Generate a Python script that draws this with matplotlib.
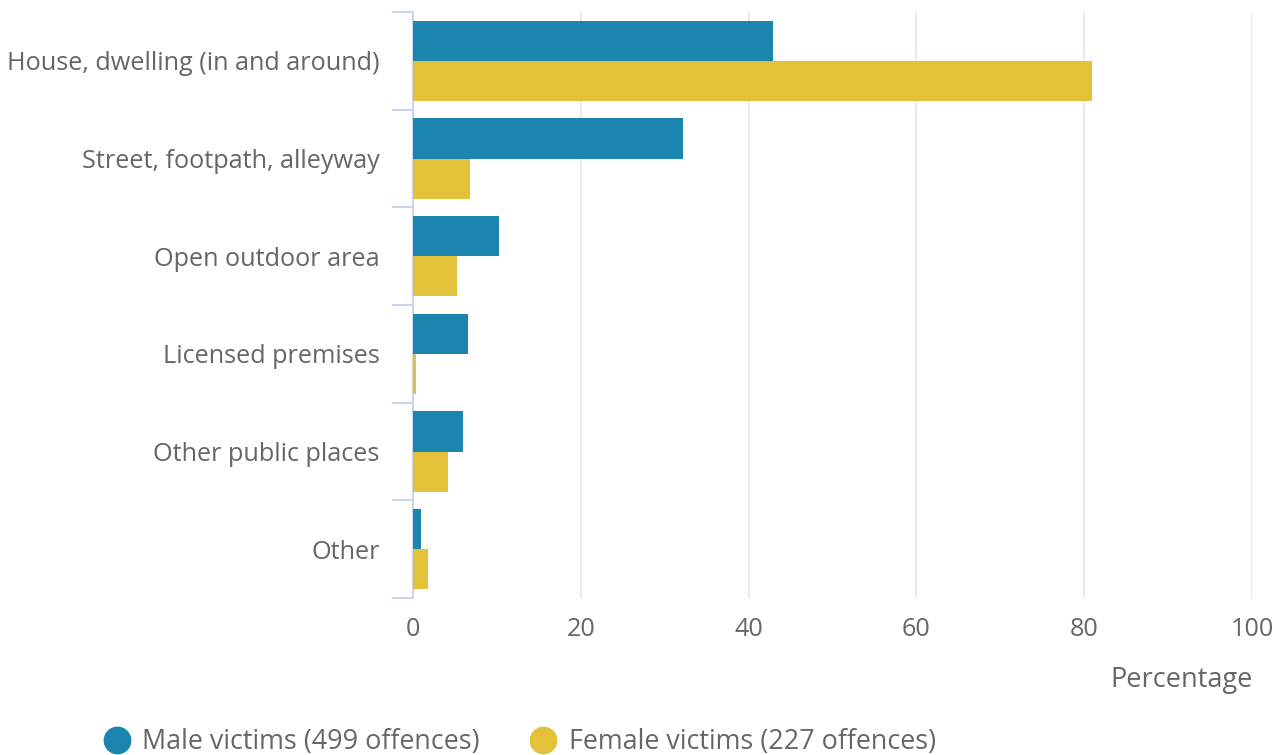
import numpy as np
import matplotlib
matplotlib.use("Agg")
import matplotlib.pyplot as plt
from matplotlib.lines import Line2D

plt.rcParams['font.family'] = ['Open Sans', 'DejaVu Sans']

# 数据
categories = ['House, dwelling (in and around)', 'Street, footpath, alleyway',
              'Open outdoor area', 'Licensed premises', 'Other public places', 'Other']
male = [42.9, 32.2, 10.3, 6.5, 6.0, 1.0]
female = [80.9, 6.8, 5.2, 0.4, 4.2, 1.8]
male_label = 'Male victims (499 offences)'
female_label = 'Female victims (227 offences)'

male_color = '#1b85ad'
female_color = '#e3c23a'
text_color = '#666666'
axis_color = '#ccd6eb'

fig = plt.figure(figsize=(12.82, 7.55), dpi=100)
ax = fig.add_axes([413 / 1282, 1 - 598 / 755, (1252 - 413) / 1282, (598 - 12) / 755])

y = np.arange(len(categories))
h = 0.41
ax.barh(y - h / 2, male, height=h, color=male_color, zorder=3)
ax.barh(y + h / 2, female, height=h, color=female_color, zorder=3)

ax.set_xlim(0, 100)
ax.set_ylim(len(categories) - 0.5, -0.5)
ax.set_xticks([0, 20, 40, 60, 80, 100])
ax.grid(axis='x', color='#e6e6e6', linewidth=1.2, zorder=0)

ax.set_yticks(y)
ax.set_yticklabels(categories)
ax.set_yticks(np.arange(-0.5, len(categories)), minor=True)
ax.tick_params(axis='y', which='major', length=0, pad=24, labelsize=18.2, labelcolor=text_color)
ax.tick_params(axis='y', which='minor', length=15, width=1.5, color=axis_color)
ax.tick_params(axis='x', length=0, pad=14, labelsize=18.2, labelcolor=text_color)

for s in ['top', 'right', 'bottom']:
    ax.spines[s].set_visible(False)
ax.spines['left'].set_color(axis_color)
ax.spines['left'].set_linewidth(1.5)

fig.text(1253 / 1282, 1 - 680 / 755, 'Percentage', ha='right', va='center',
         fontsize=19.5, color=text_color)

handles = [Line2D([], [], marker='o', linestyle='', markersize=19, color=male_color),
           Line2D([], [], marker='o', linestyle='', markersize=19, color=female_color)]
fig.legend(handles, [male_label, female_label], loc='center left',
           bbox_to_anchor=(87 / 1282, 1 - 742 / 755), ncol=2, frameon=False,
           fontsize=19.4, labelcolor=text_color, handletextpad=0.35, columnspacing=1.75,
           borderpad=0, handlelength=1.2)

fig.savefig('out.png', dpi=100)
